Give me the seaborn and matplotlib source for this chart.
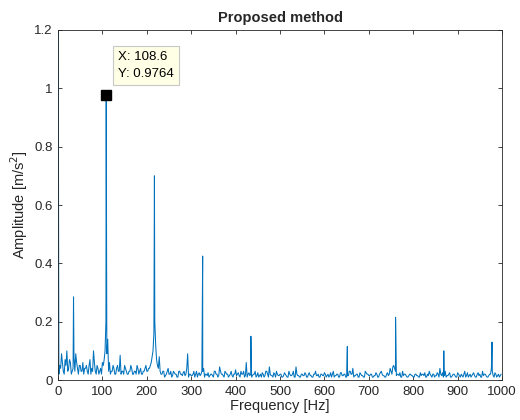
import numpy as np
import pandas as pd
import matplotlib
matplotlib.use('Agg')
import matplotlib.pyplot as plt
import seaborn as sns
from matplotlib.ticker import FormatStrFormatter

# noise floor, one value every 4 Hz from 4 Hz to 996 Hz
noise_freq = list(range(4, 1000, 4))
noise_amp = [
    # 4 - 100 Hz
    0.05, 0.09, 0.03, 0.07, 0.10, 0.04, 0.06, 0.03, 0.08, 0.09,
    0.04, 0.05, 0.03, 0.06, 0.04, 0.05, 0.02, 0.07, 0.04, 0.10,
    0.03, 0.05, 0.02, 0.04, 0.06,
    # 104 - 200 Hz
    0.07, 0.20, 0.14, 0.06, 0.03, 0.05, 0.02, 0.04, 0.03, 0.085,
    0.03, 0.02, 0.04, 0.02, 0.03, 0.05, 0.02, 0.03, 0.02, 0.04,
    0.03, 0.02, 0.03, 0.04, 0.03,
    # 204 - 300 Hz
    0.04, 0.05, 0.08, 0.16, 0.12, 0.05, 0.08, 0.02, 0.03, 0.01,
    0.02, 0.04, 0.02, 0.01, 0.03, 0.02, 0.01, 0.03, 0.02, 0.015,
    0.03, 0.02, 0.09, 0.02, 0.015,
    # 304 - 400 Hz
    0.02, 0.01, 0.03, 0.02, 0.015, 0.03, 0.04, 0.02, 0.015, 0.01,
    0.02, 0.015, 0.03, 0.02, 0.01, 0.045, 0.02, 0.015, 0.03, 0.02,
    0.01, 0.02, 0.015, 0.02, 0.035,
    # 404 - 500 Hz
    0.02, 0.015, 0.03, 0.02, 0.01, 0.06, 0.02, 0.015, 0.01, 0.02,
    0.03, 0.015, 0.01, 0.02, 0.025, 0.01, 0.03, 0.02, 0.045, 0.015,
    0.01, 0.02, 0.03, 0.015, 0.02,
    # 504 - 600 Hz
    0.01, 0.015, 0.02, 0.01, 0.03, 0.015, 0.02, 0.01, 0.045, 0.015,
    0.01, 0.02, 0.015, 0.025, 0.01, 0.02, 0.015, 0.01, 0.02, 0.03,
    0.015, 0.01, 0.02, 0.015, 0.025,
    # 604 - 700 Hz
    0.01, 0.02, 0.015, 0.01, 0.03, 0.015, 0.02, 0.01, 0.025, 0.015,
    0.02, 0.01, 0.015, 0.03, 0.02, 0.04, 0.015, 0.02, 0.01, 0.025,
    0.015, 0.01, 0.03, 0.02, 0.015,
    # 704 - 800 Hz
    0.02, 0.01, 0.015, 0.025, 0.01, 0.02, 0.03, 0.015, 0.01, 0.02,
    0.015, 0.04, 0.02, 0.05, 0.03, 0.02, 0.015, 0.01, 0.03, 0.02,
    0.015, 0.01, 0.02, 0.015, 0.01,
    # 804 - 900 Hz
    0.02, 0.015, 0.01, 0.025, 0.02, 0.015, 0.01, 0.02, 0.03, 0.015,
    0.02, 0.01, 0.015, 0.02, 0.04, 0.015, 0.01, 0.03, 0.015, 0.02,
    0.01, 0.015, 0.02, 0.01, 0.025,
    # 904 - 996 Hz
    0.015, 0.02, 0.01, 0.03, 0.015, 0.01, 0.02, 0.015, 0.025, 0.01,
    0.02, 0.015, 0.01, 0.03, 0.02, 0.015, 0.01, 0.02, 0.04, 0.015,
    0.025, 0.01, 0.02, 0.015,
]

# in-between noise values, 2 Hz to 998 Hz every 4 Hz
noise_freq_b = list(range(2, 1000, 4))
noise_amp_b = [
    # 2 - 98 Hz
    0.02, 0.04, 0.06, 0.02, 0.05, 0.03, 0.07, 0.02, 0.04, 0.03,
    0.06, 0.02, 0.05, 0.03, 0.02, 0.04, 0.03, 0.05, 0.02, 0.03,
    0.06, 0.02, 0.04, 0.03, 0.02,
    # 102 - 198 Hz
    0.05, 0.10, 0.09, 0.03, 0.02, 0.03, 0.04, 0.02, 0.05, 0.03,
    0.02, 0.03, 0.05, 0.03, 0.02, 0.03, 0.04, 0.02, 0.03, 0.05,
    0.02, 0.04, 0.02, 0.03, 0.05,
    # 202 - 298 Hz
    0.03, 0.04, 0.06, 0.10, 0.20, 0.07, 0.04, 0.03, 0.02, 0.03,
    0.015, 0.03, 0.02, 0.03, 0.015, 0.025, 0.02, 0.01, 0.03, 0.02,
    0.025, 0.015, 0.04, 0.01, 0.02,
    # 302 - 398 Hz
    0.015, 0.03, 0.02, 0.01, 0.025, 0.02, 0.03, 0.01, 0.02, 0.025,
    0.015, 0.02, 0.01, 0.03, 0.02, 0.015, 0.03, 0.02, 0.01, 0.025,
    0.02, 0.015, 0.03, 0.01, 0.02,
    # 402 - 498 Hz
    0.015, 0.025, 0.01, 0.02, 0.03, 0.015, 0.01, 0.025, 0.02, 0.015,
    0.02, 0.01, 0.025, 0.015, 0.01, 0.02, 0.015, 0.03, 0.01, 0.02,
    0.015, 0.025, 0.01, 0.02, 0.015,
    # 502 - 598 Hz
    0.02, 0.01, 0.025, 0.015, 0.01, 0.02, 0.015, 0.03, 0.01, 0.02,
    0.015, 0.01, 0.02, 0.015, 0.02, 0.01, 0.025, 0.015, 0.01, 0.02,
    0.015, 0.02, 0.01, 0.02, 0.015,
    # 602 - 698 Hz
    0.02, 0.015, 0.01, 0.025, 0.02, 0.01, 0.015, 0.02, 0.01, 0.025,
    0.015, 0.02, 0.01, 0.015, 0.03, 0.02, 0.01, 0.015, 0.02, 0.01,
    0.02, 0.015, 0.01, 0.025, 0.02,
    # 702 - 798 Hz
    0.015, 0.02, 0.01, 0.015, 0.02, 0.01, 0.025, 0.02, 0.015, 0.01,
    0.025, 0.02, 0.03, 0.045, 0.04, 0.015, 0.02, 0.025, 0.01, 0.015,
    0.02, 0.01, 0.015, 0.02, 0.015,
    # 802 - 898 Hz
    0.01, 0.02, 0.015, 0.01, 0.015, 0.02, 0.025, 0.01, 0.015, 0.02,
    0.01, 0.02, 0.015, 0.025, 0.01, 0.02, 0.025, 0.015, 0.01, 0.015,
    0.025, 0.01, 0.02, 0.015, 0.01,
    # 902 - 998 Hz
    0.02, 0.01, 0.015, 0.02, 0.01, 0.025, 0.015, 0.01, 0.02, 0.015,
    0.01, 0.025, 0.02, 0.01, 0.015, 0.02, 0.01, 0.015, 0.02, 0.03,
    0.01, 0.02, 0.015, 0.01, 0.02,
]

# harmonic peaks
peak_freq = [0.0, 35.0, 108.6, 217.2, 325.8, 434.4, 651.6, 760.2, 868.8, 977.4]
peak_amp = [1.60, 0.285, 0.9764, 0.70, 0.425, 0.15, 0.115, 0.215, 0.10, 0.13]

tip_x = 108.6
tip_y = 0.9764

df = pd.DataFrame({'freq': noise_freq + noise_freq_b + peak_freq,
                   'amp': noise_amp + noise_amp_b + peak_amp}).sort_values('freq')

sns.set_style('white')
plt.rcParams['font.family'] = ['Liberation Sans', 'DejaVu Sans']

fig = plt.figure(figsize=(5.2, 4.2), dpi=100)
ax = fig.add_axes([0.1115, 0.0952, 0.854, 0.8334])

sns.lineplot(data=df, x='freq', y='amp', estimator=None, sort=False,
             color='#0072BD', linewidth=0.75, ax=ax)

ax.plot([tip_x], [tip_y], marker='s', color='black', markersize=6.5)
ax.text(136, 1.128, 'X: 108.6\nY: 0.9764', ha='left', va='top', fontsize=9.5,
        linespacing=1.55, color='black',
        bbox=dict(boxstyle='square,pad=0.4', fc='#ffffe6', ec='#c8c8c8', lw=0.8))

ax.set_xlim(0, 1000)
ax.set_ylim(0, 1.2)
ax.set_xticks(np.arange(0, 1001, 100))
ax.set_yticks(np.arange(0, 1.21, 0.2))
ax.yaxis.set_major_formatter(FormatStrFormatter('%g'))
ax.tick_params(direction='in', length=3, width=0.6, top=True, right=True,
               bottom=True, left=True, labelsize=9.5, colors='#262626',
               labelcolor='#262626', pad=4)
for s in ax.spines.values():
    s.set_color('#262626')
    s.set_linewidth(0.6)

ax.set_title('Proposed method', fontsize=10.5, fontweight='bold', pad=6)
ax.set_xlabel('Frequency [Hz]', fontsize=10.5, color='#262626', labelpad=1)
ax.set_ylabel('Amplitude [m/s$^2$]', fontsize=10.5, color='#262626', labelpad=3)

fig.savefig('out.png', dpi=100)
